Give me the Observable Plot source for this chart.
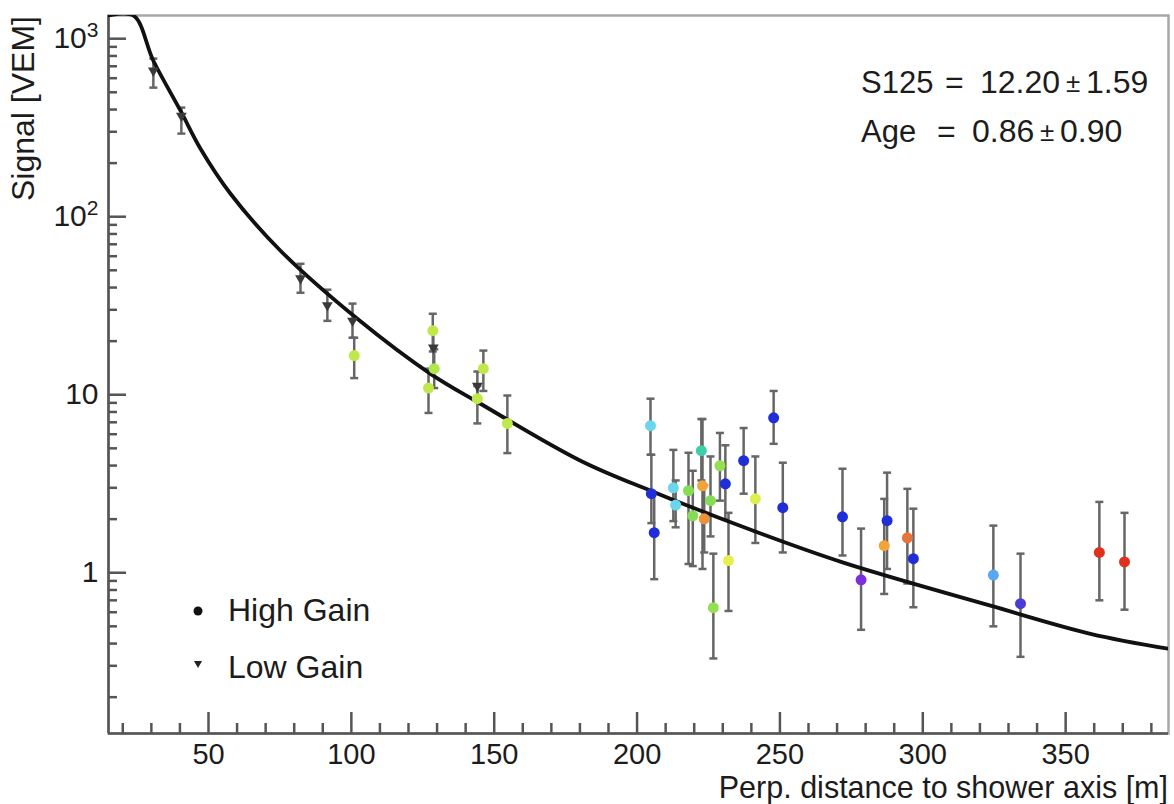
<!DOCTYPE html>
<html><head><meta charset="utf-8">
<script src="https://cdn.jsdelivr.net/npm/d3@7"></script>
<script src="https://cdn.jsdelivr.net/npm/@observablehq/plot@0.6"></script>
<style>
body{margin:0;background:#fff;}
#wrap{position:relative;width:1174px;height:804px;overflow:hidden;}
#over{position:absolute;left:0;top:0;pointer-events:none;}
</style></head>
<body><div id="wrap"></div>
<script>
// ---- data ----
// high gain stations: distance [m], signal [VEM], error low, error high, relative time (colour)
const hgR  = [101, 128.5, 129, 127, 146.2, 144.1, 154.6,
              204.7, 205, 206, 212.7, 213.5, 218, 219.5, 222.9, 222.5, 223.5, 225.7, 226.7, 229, 230.9, 232, 237.3, 241.4, 247.8, 251,
              271.9, 278.4, 286.5, 287.5, 294.6, 296.7, 324.7, 334.2, 361.8, 370.6];
const hgS  = [16.6, 22.9, 14.0, 10.9, 14.0, 9.5, 6.9,
              6.7, 2.78, 1.68, 3.0, 2.4, 2.89, 2.09, 3.08, 4.85, 2.01, 2.54, 0.636, 3.99, 3.16, 1.17, 4.26, 2.6, 7.42, 2.32,
              2.06, 0.913, 1.42, 1.96, 1.57, 1.2, 0.97, 0.67, 1.30, 1.15];
const hgLo = [12.4, 17.5, 10.9, 7.9, 10.5, 6.9, 4.7,
              4.6, 1.9, 0.92, 1.95, 1.8, 1.12, 1.09, 1.05, 3.3, 1.3, 1.6, 0.33, 2.54, 2.0, 0.61, 2.78, 1.47, 5.3, 1.3,
              1.25, 0.478, 0.76, 1.05, 0.87, 0.64, 0.5, 0.337, 0.70, 0.62];
const hgHi = [20.9, 28.5, 18.0, 14.0, 17.7, 11.2, 9.9,
              9.5, 4.6, 2.8, 4.9, 3.3, 4.72, 3.74, 7.3, 7.3, 3.1, 4.5, 1.28, 6.1, 5.2, 2.17, 6.5, 4.5, 10.5, 4.15,
              3.84, 1.77, 2.6, 3.65, 2.96, 2.29, 1.84, 1.28, 2.5, 2.17];
const hgT  = [0.7, 0.7, 0.68, 0.7, 0.7, 0.7, 0.7,
              0.4, 0.15, 0.15, 0.4, 0.4, 0.62, 0.62, 0.88, 0.5, 0.9, 0.62, 0.64, 0.64, 0.15, 0.8, 0.15, 0.78, 0.15, 0.15,
              0.15, 0.02, 0.88, 0.15, 0.93, 0.15, 0.3, 0.1, 1.0, 1.0];

// low gain stations
const lgR  = [30.7, 40.5, 82.2, 91.6, 100.4, 128.7, 144.1];
const lgS  = [661, 369, 45, 31.8, 26.0, 18.4, 11.2];
const lgLo = [531, 293, 37.4, 26.0, 20.9, 14.0, 9.5];
const lgHi = [773, 410, 54.4, 38.9, 32.5, 23.0, 13.5];

// fitted LDF
const fitR = [15, 23.8, 30.7, 40.2, 47.2, 57.7, 75.2, 102.1, 127.7, 145.2, 180.2, 204.7, 240.7, 272.2, 323.7, 358.7, 386];
const fitS = [1350, 1346, 752, 394, 241, 134.6, 64.4, 26.7, 13.1, 8.9, 4.26, 2.89, 1.72, 1.14, 0.653, 0.454, 0.374];

// axes
const xMajor = [50, 100, 150, 200, 250, 300, 350];
const xMinor = [20, 30, 40, 60, 70, 80, 90, 110, 120, 130, 140, 160, 170, 180, 190, 210, 220, 230, 240,
                260, 270, 280, 290, 310, 320, 330, 340, 360, 370, 380];
const yMajor = [1, 10, 100, 1000];
const yMajorLabels = ["1", "10", "10^2", "10^3"];
const yMinor = [0.2, 0.3, 0.4, 0.5, 0.6, 0.7, 0.8, 0.9, 2, 3, 4, 5, 6, 7, 8, 9,
                20, 30, 40, 50, 60, 70, 80, 90, 200, 300, 400, 500, 600, 700, 800, 900];
const xTitle = "Perp. distance to shower axis [m]";
const yTitle = "Signal [VEM]";
const legendLabels = ["High Gain", "Low Gain"];
const fitNames = ["S125", "Age"];
const fitValues = ["12.20", "0.86"];
const fitErrors = ["1.59", "0.90"];

// ---- build tables ----
const hg = hgR.map((r, i) => ({r, s: hgS[i], lo: hgLo[i], hi: hgHi[i], t: hgT[i]}));
const lg = lgR.map((r, i) => ({r, s: lgS[i], lo: lgLo[i], hi: lgHi[i]}));
const fit = fitR.map((r, i) => ({r, s: fitS[i]}));
const bars = hg.concat(lg);

const W = 1174, H = 804, mL = 108, mR = 6, mT = 15, mB = 71;
const pw = W - mL - mR, ph = H - mT - mB;
const axisCol = "#555";
const barCol = "#666";
const font = "'Liberation Sans', Arial, Helvetica, sans-serif";
const textCol = "#1c1c1c";

const cap = {draw(ctx, size) { const w = Math.sqrt(size / Math.PI); ctx.moveTo(-w, 0); ctx.lineTo(w, 0); }};

const chart = Plot.plot({
  width: W, height: H,
  marginLeft: mL, marginRight: mR, marginTop: mT, marginBottom: mB,
  style: {fontFamily: font, fontSize: "29px", color: textCol, background: "white"},
  x: {domain: [15, 386]},
  y: {type: "log", domain: [0.125, 1350]},
  color: {type: "linear",
          domain: [0, 0.1, 0.15, 0.3, 0.4, 0.5, 0.62, 0.7, 0.8, 0.88, 0.93, 1],
          range: ["#8a2be2", "#4a3ad8", "#1f2ed6", "#5aa6f0", "#6ad6ee", "#3ccfa8", "#86dd55", "#bfe94a", "#e6ef50", "#f0a43a", "#e8743a", "#e0301e"]},
  marks: [
    Plot.frame({stroke: "#a8a8a8", strokeWidth: 2.5}),
    Plot.ruleX([15], {stroke: axisCol, strokeWidth: 2.5}),
    Plot.ruleY([0.125], {stroke: axisCol, strokeWidth: 2.5}),
    Plot.tickX(xMajor, {x: d => d, insetTop: ph - 21, stroke: axisCol, strokeWidth: 2.5}),
    Plot.tickX(xMinor, {x: d => d, insetTop: ph - 10, stroke: axisCol, strokeWidth: 2.5}),
    Plot.tickY(yMajor, {y: d => d, insetRight: pw - 18, stroke: axisCol, strokeWidth: 2.5}),
    Plot.tickY(yMinor, {y: d => d, insetRight: pw - 9, stroke: axisCol, strokeWidth: 2.5}),
    Plot.axisX(xMajor, {tickSize: 0, tickPadding: 10, label: null, fontSize: 29}),
    Plot.axisY(yMajor, {tickSize: 0, tickPadding: 10, label: null, fontSize: 30,
                        tickFormat: d => yMajorLabels[yMajor.indexOf(d)]}),
    // error bars
    Plot.ruleX(bars, {x: "r", y1: "lo", y2: "hi", stroke: barCol, strokeWidth: 2.5}),
    Plot.dot(bars, {x: "r", y: "lo", symbol: cap, r: 4, fill: "none", stroke: barCol, strokeWidth: 2.5}),
    Plot.dot(bars, {x: "r", y: "hi", symbol: cap, r: 4, fill: "none", stroke: barCol, strokeWidth: 2.5}),
    // fit
    Plot.line(fit, {x: "r", y: "s", stroke: "#111", strokeWidth: 3.8, curve: "catmull-rom", clip: true}),
    // stations
    Plot.dot(lg, {x: "r", y: "s", symbol: "triangle", rotate: 180, r: 4, fill: "#3a3a3a"}),
    Plot.dot(hg, {x: "r", y: "s", r: 5.5, fill: "t"})
  ]
});

// superscripts for the decade labels (10^2 -> 10 with raised 2)
chart.querySelectorAll("text").forEach(t => {
  const s = t.textContent;
  if (s.includes("^")) {
    const [base, exp] = s.split("^");
    t.textContent = "";
    const a = document.createElementNS("http://www.w3.org/2000/svg", "tspan");
    a.textContent = base;
    const b = document.createElementNS("http://www.w3.org/2000/svg", "tspan");
    b.textContent = exp; b.setAttribute("font-size", "21"); b.setAttribute("dy", "-11");
    t.appendChild(a); t.appendChild(b);
  }
});

const wrap = document.getElementById("wrap");
wrap.appendChild(chart);

// ---- overlay texts: titles, fit result box, legend ----
const ns = "http://www.w3.org/2000/svg";
const over = document.createElementNS(ns, "svg");
over.setAttribute("id", "over");
over.setAttribute("width", W); over.setAttribute("height", H);
over.style.fontFamily = font;
wrap.appendChild(over);
function txt(x, y, s, opts = {}) {
  const t = document.createElementNS(ns, "text");
  t.setAttribute("x", x); t.setAttribute("y", y);
  t.setAttribute("font-size", opts.size || 32);
  t.setAttribute("fill", opts.fill || textCol);
  if (opts.anchor) t.setAttribute("text-anchor", opts.anchor);
  if (opts.transform) t.setAttribute("transform", opts.transform);
  t.textContent = s;
  over.appendChild(t);
  return t;
}
txt(1168, 798, xTitle, {anchor: "end", size: 30.5});
txt(0, 0, yTitle, {anchor: "end", transform: "translate(34,16) rotate(-90)"});
// fit results
txt(861, 93, fitNames[0], {size: 31});
txt(945, 93, "=");
txt(980, 93, fitValues[0]);
txt(1066, 92, "±", {size: 26});
txt(1086, 93, fitErrors[0]);
txt(861, 142, fitNames[1], {size: 31});
txt(937, 142, "=");
txt(972, 142, fitValues[1]);
txt(1040, 141, "±", {size: 26});
txt(1060, 142, fitErrors[1]);
// legend
const c = document.createElementNS(ns, "circle");
c.setAttribute("cx", 198); c.setAttribute("cy", 611); c.setAttribute("r", 4.5); c.setAttribute("fill", "#111");
over.appendChild(c);
const tri = document.createElementNS(ns, "path");
tri.setAttribute("d", "M194,661 L202,661 L198,668 Z"); tri.setAttribute("fill", "#222");
over.appendChild(tri);
txt(228, 621, legendLabels[0]);
txt(228, 678, legendLabels[1]);
</script>
</body></html>
